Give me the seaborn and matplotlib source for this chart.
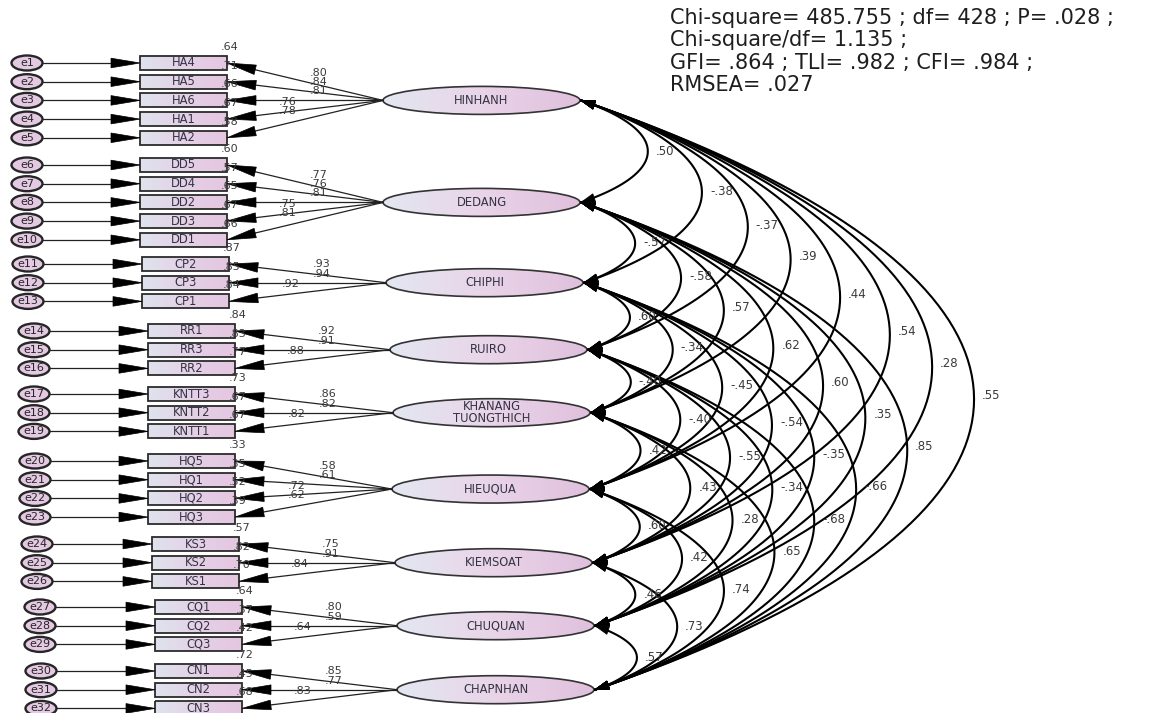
import numpy as np
import matplotlib
matplotlib.use("Agg")
import matplotlib.pyplot as plt
import seaborn as sns
from matplotlib.patches import Ellipse, Rectangle, Polygon
from matplotlib.colors import LinearSegmentedColormap

sns.set_theme(style="white")
plt.rcParams['font.family'] = ['DejaVu Sans']

# ---- data ----
factors = ["HINHANH", "DEDANG", "CHIPHI", "RUIRO", "KHANANG\nTUONGTHICH",
           "HIEUQUA", "KIEMSOAT", "CHUQUAN", "CHAPNHAN"]
items = [["HA4", "HA5", "HA6", "HA1", "HA2"],
         ["DD5", "DD4", "DD2", "DD3", "DD1"],
         ["CP2", "CP3", "CP1"],
         ["RR1", "RR3", "RR2"],
         ["KNTT3", "KNTT2", "KNTT1"],
         ["HQ5", "HQ1", "HQ2", "HQ3"],
         ["KS3", "KS2", "KS1"],
         ["CQ1", "CQ2", "CQ3"],
         ["CN1", "CN2", "CN3"]]
loadings = [[.80, .84, .81, .76, .78],
            [.77, .76, .81, .75, .81],
            [.93, .94, .92],
            [.92, .91, .88],
            [.86, .82, .82],
            [.58, .61, .72, .62],
            [.75, .91, .84],
            [.80, .59, .64],
            [.85, .77, .83]]
r_squared = [[.64, .71, .66, .67, .58],
             [.60, .57, .65, .67, .66],
             [.87, .85, .84],
             [.84, .83, .77],
             [.73, .67, .67],
             [.33, .35, .52, .39],
             [.57, .82, .70],
             [.64, .37, .42],
             [.72, .45, .68]]
# upper triangle of the factor correlations, row by row
corr_rows = [[.50, -.38, -.37, .39, .44, .54, .28, .55],
             [-.57, -.58, .57, .62, .60, .35, .85],
             [.60, -.34, -.45, -.54, -.35, -.66],
             [-.40, -.40, -.55, -.34, -.68],
             [.42, .43, .28, .65],
             [.60, .42, .74],
             [.46, .73],
             [.57]]
fit_lines = ["Chi-square= 485.755 ; df= 428 ; P= .028 ;",
             "Chi-square/df= 1.135 ;",
             "GFI= .864 ; TLI= .982 ; CFI= .984 ;",
             "RMSEA= .027"]

# ---- layout (pixels) ----
group_top = [63, 165, 264, 331, 394, 461, 544, 607, 671]
row_step = 18.7
box_left = [140, 140, 142, 148, 148, 148, 152, 155, 155]
box_w, box_h = 87, 14
err_cx = [27, 27, 28, 34, 34, 35, 37, 40, 41]
err_w, err_h = 31, 15
lat_left = [383, 383, 386, 390, 393, 392, 395, 397, 397]
lat_w, lat_h = 197, 28

ell_cmap = LinearSegmentedColormap.from_list("ell", ["#e3e7f1", "#e9d4e8", "#e0c0dd"])
box_cmap = LinearSegmentedColormap.from_list("box", ["#dfe3ee", "#e4d1e6", "#e4c6e1"])
grad = np.linspace(0, 1, 128).reshape(1, -1)

fig = plt.figure(figsize=(11.64, 7.13), dpi=100)
ax = fig.add_axes([0, 0, 1, 1])
ax.set_xlim(0, 1164)
ax.set_ylim(713, 0)
ax.axis("off")


def arrowhead(tip, direction, length, hw, color="black"):
    d = np.asarray(direction, float)
    d = d / np.hypot(*d)
    n = np.array([-d[1], d[0]])
    tip = np.asarray(tip, float)
    base = tip - d * length
    ax.add_patch(Polygon([tip, base + n * hw, base - n * hw], closed=True,
                         facecolor=color, edgecolor=color, lw=0.5, zorder=6))


def gradient_patch(patch, cmap, x0, x1, y0, y1, z):
    patch.set_zorder(z)
    ax.add_patch(patch)
    im = ax.imshow(grad, cmap=cmap, extent=[x0, x1, y1, y0], aspect="auto",
                   interpolation="bilinear", zorder=z)
    im.set_clip_path(patch)
    return im


def fmt(v):
    return f"{v:.2f}".replace("0.", ".")


text_col = "#3a3a3a"
lat_pos = []
for g, names in enumerate(items):
    ys = [group_top[g] + k * row_step for k in range(len(names))]
    ly = float(np.mean(ys))
    lx0 = lat_left[g]
    lat_pos.append((lx0, lx0 + lat_w, ly))
    # latent ellipse
    e = Ellipse((lx0 + lat_w / 2, ly), lat_w, lat_h, facecolor="none")
    gradient_patch(e, ell_cmap, lx0, lx0 + lat_w, ly - lat_h / 2, ly + lat_h / 2, 3)
    ax.add_patch(Ellipse((lx0 + lat_w / 2, ly), lat_w, lat_h, facecolor="none",
                         edgecolor="#333333", lw=1.2, zorder=4))
    ax.text(lx0 + lat_w / 2, ly, factors[g], ha="center", va="center",
            fontsize=8.3, color="#333344", linespacing=0.95, zorder=7)

    bx0 = box_left[g]
    bx1 = bx0 + box_w
    for k, name in enumerate(names):
        by = ys[k]
        # indicator box
        r = Rectangle((bx0, by - box_h / 2), box_w, box_h, facecolor="none")
        gradient_patch(r, box_cmap, bx0, bx1, by - box_h / 2, by + box_h / 2, 3)
        ax.add_patch(Rectangle((bx0, by - box_h / 2), box_w, box_h, facecolor="none",
                               edgecolor="#2b2b2b", lw=1.3, zorder=4))
        ax.text((bx0 + bx1) / 2, by, name, ha="center", va="center",
                fontsize=8.3, color="#333344", zorder=7)
        # error term
        cx = err_cx[g]
        eidx = sum(len(n) for n in items[:g]) + k + 1
        ax.add_patch(Ellipse((cx, by), err_w, err_h, facecolor="#e4c9e2",
                             edgecolor="#262626", lw=1.7, zorder=4))
        ax.text(cx, by, f"e{eidx}", ha="center", va="center", fontsize=8,
                color="#262626", zorder=7)
        ax.plot([cx + err_w / 2, bx0 - 20], [by, by], color="#222222", lw=0.9, zorder=5)
        arrowhead((bx0, by), (1, 0), 29, 4.8)
        # loading path
        ax.plot([lx0, bx1 + 20], [ly, by + (ly - by) * 20 / (lx0 - bx1)],
                color="#222222", lw=0.9, zorder=5)
        arrowhead((bx1, by), (bx1 - lx0, by - ly), 29, 4.8)
        mx, my = (lx0 + bx1) / 2, (ly + by) / 2
        if by <= ly + 3:
            tx, ty = mx + 14, my - 9
        else:
            tx, ty = mx - 17, my - 8
        ax.text(tx, ty, fmt(loadings[g][k]), ha="center", va="center",
                fontsize=8, color=text_col, zorder=7)
        # squared multiple correlation
        ax.text(bx1 + 3, by - 16, fmt(r_squared[g][k]),
                ha="center", va="center", fontsize=8, color=text_col, zorder=7)

# covariance arcs between the factors
t = np.linspace(0, 1, 80)[:, None]
for i, row in enumerate(corr_rows):
    for off, val in enumerate(row):
        j = i + 1 + off
        p0 = np.array([lat_pos[i][1] + 1, lat_pos[i][2]])
        p3 = np.array([lat_pos[j][1] + 1, lat_pos[j][2]])
        c = p3[1] - p0[1]
        bulge = 0.655 * c
        w = bulge / 0.75
        c1 = p0 + np.array([w, 0.3 * c])
        c2 = p3 + np.array([w, -0.3 * c])
        pts = ((1 - t) ** 3) * p0 + 3 * ((1 - t) ** 2) * t * c1 + 3 * (1 - t) * t ** 2 * c2 + t ** 3 * p3
        ax.plot(pts[:, 0], pts[:, 1], color="black", lw=1.5, zorder=5)
        arrowhead(p0, p0 - c1, 14, 4.3)
        arrowhead(p3, p3 - c2, 14, 4.3)
        apex_x = (p0[0] + p3[0]) / 2 + 0.75 * w
        apex_y = (p0[1] + p3[1]) / 2
        ax.text(apex_x + 8, apex_y, fmt(val), ha="left", va="center", fontsize=8.5,
                color=text_col, zorder=7)

for n, line in enumerate(fit_lines):
    ax.text(670, 18 + n * 22.3, line, ha="left", va="center", fontsize=15,
            color="#1e1e1e", zorder=8)

fig.savefig("out.png", dpi=100)
